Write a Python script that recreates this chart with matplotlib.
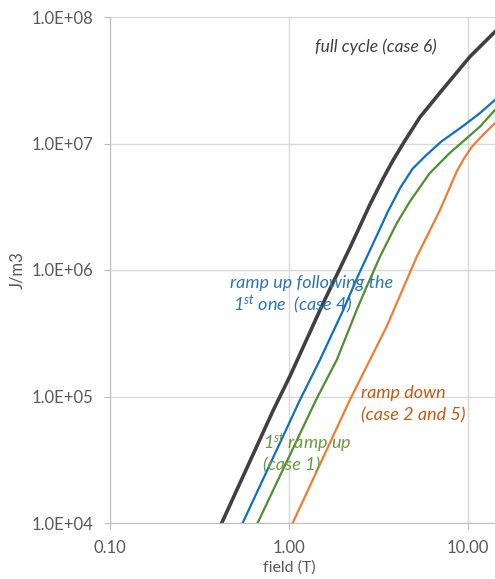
import matplotlib
matplotlib.use("Agg")
import matplotlib.pyplot as plt
from matplotlib.ticker import FixedLocator, FuncFormatter, NullLocator

plt.rcParams['font.family'] = ['Lato', 'DejaVu Sans']
plt.rcParams['mathtext.fontset'] = 'custom'
plt.rcParams['mathtext.rm'] = 'Lato'
plt.rcParams['mathtext.it'] = 'Lato:italic'

# full cycle (case 6)
field_c6 = [0.421, 0.817, 1.013, 1.555, 2.19, 2.835, 3.36, 3.8, 4.4, 5.4,
            7.1, 10.26, 14.16]
energy_c6 = [1.0e4, 7.8e4, 1.45e5, 5.5e5, 1.5e6, 3.3e6, 5.3e6, 7.3e6, 1.03e7, 1.62e7,
             2.6e7, 4.86e7, 7.65e7]

# ramp up following the 1st one (case 4)
field_c4 = [0.551, 1.152, 1.49, 2.01, 2.44, 2.84, 3.57, 4.2, 4.9, 5.8,
            7.06, 9.42, 11.67, 14.16]
energy_c4 = [1.0e4, 9.4e4, 1.95e5, 4.83e5, 9.1e5, 1.44e6, 2.9e6, 4.5e6, 6.3e6, 8.0e6,
             1.03e7, 1.38e7, 1.74e7, 2.21e7]

# 1st ramp up (case 1)
field_c1 = [0.668, 1.416, 1.85, 2.39, 2.72, 3.22, 4.0, 4.75, 6.1, 7.9,
            9.62, 11.67, 14.16]
energy_c1 = [1.0e4, 9.4e4, 1.95e5, 4.83e5, 7.4e5, 1.27e6, 2.34e6, 3.5e6, 5.8e6, 8.4e6,
             1.07e7, 1.36e7, 1.84e7]

# ramp down (case 2 and 5)
field_c25 = [1.049, 2.19, 3.51, 5.17, 6.98, 8.65, 9.5, 10.5, 12.0, 14.16]
energy_c25 = [1.0e4, 9.4e4, 3.56e5, 1.27e6, 2.98e6, 6.0e6, 7.6e6, 9.4e6, 1.15e7, 1.45e7]

y_ticks = [1e4, 1e5, 1e6, 1e7, 1e8]
x_ticks = [0.1, 1, 10]

fig = plt.figure(figsize=(4.95, 5.79), dpi=100)
ax = fig.add_axes([110 / 495, 56 / 579, 385 / 495, 506 / 579])

ax.plot(field_c6, energy_c6, color='#404040', lw=2.6, solid_joinstyle='round')
ax.plot(field_c4, energy_c4, color='#0F70C0', lw=1.6, solid_joinstyle='round')
ax.plot(field_c1, energy_c1, color='#4E9030', lw=1.6, solid_joinstyle='round')
ax.plot(field_c25, energy_c25, color='#ED7D31', lw=1.6, solid_joinstyle='round')

ax.set_xscale('log')
ax.set_yscale('log')
ax.set_xlim(0.1, 14.16)
ax.set_ylim(1e4, 1e8)

ax.xaxis.set_major_locator(FixedLocator(x_ticks))
ax.xaxis.set_minor_locator(NullLocator())
ax.yaxis.set_major_locator(FixedLocator(y_ticks))
ax.yaxis.set_minor_locator(NullLocator())
ax.xaxis.set_major_formatter(FuncFormatter(lambda v, p: f"{v:.2f}"))
ax.yaxis.set_major_formatter(FuncFormatter(lambda v, p: f"{v:.1E}"))

ax.grid(True, color='#d9d9d9', lw=1)
ax.set_axisbelow(True)
for s in ['top', 'right']:
    ax.spines[s].set_visible(False)
for s in ['left', 'bottom']:
    ax.spines[s].set_color('#bfbfbf')
ax.tick_params(colors='#bfbfbf', labelcolor='#595959', labelsize=12, length=4)
ax.tick_params(axis='x', pad=8)
ax.tick_params(axis='y', pad=8)

ax.set_xlabel('field (T)', color='#595959', fontsize=11.5)
ax.xaxis.set_label_coords(0.465, -0.074)
ax.set_ylabel('J/m3', color='#595959', fontsize=12)
ax.yaxis.set_label_coords(-0.22, 0.5)

ax.text(1.40, 5.8e7, 'full cycle (case 6)', style='italic', color='#404040',
        fontsize=12.5, va='center', ha='left')
ax.text(0.468, 7.9e5, 'ramp up following the', style='italic', color='#2E75B6',
        fontsize=13, va='center', ha='left')
ax.text(0.487, 5.3e5, '1$^{st}$ one  (case 4)', style='italic', color='#2E75B6',
        fontsize=13, va='center', ha='left')
ax.text(2.52, 1.07e5, 'ramp down', style='italic', color='#C55A11',
        fontsize=13, va='center', ha='left')
ax.text(2.52, 7.1e4, '(case 2 and 5)', style='italic', color='#C55A11',
        fontsize=13, va='center', ha='left')
ax.text(0.716, 4.3e4, '1$^{st}$ ramp up', style='italic', color='#6A9A3E',
        fontsize=13, va='center', ha='left')
ax.text(0.716, 2.87e4, '(case 1)', style='italic', color='#6A9A3E',
        fontsize=13, va='center', ha='left')

fig.savefig('out.png', dpi=100)
